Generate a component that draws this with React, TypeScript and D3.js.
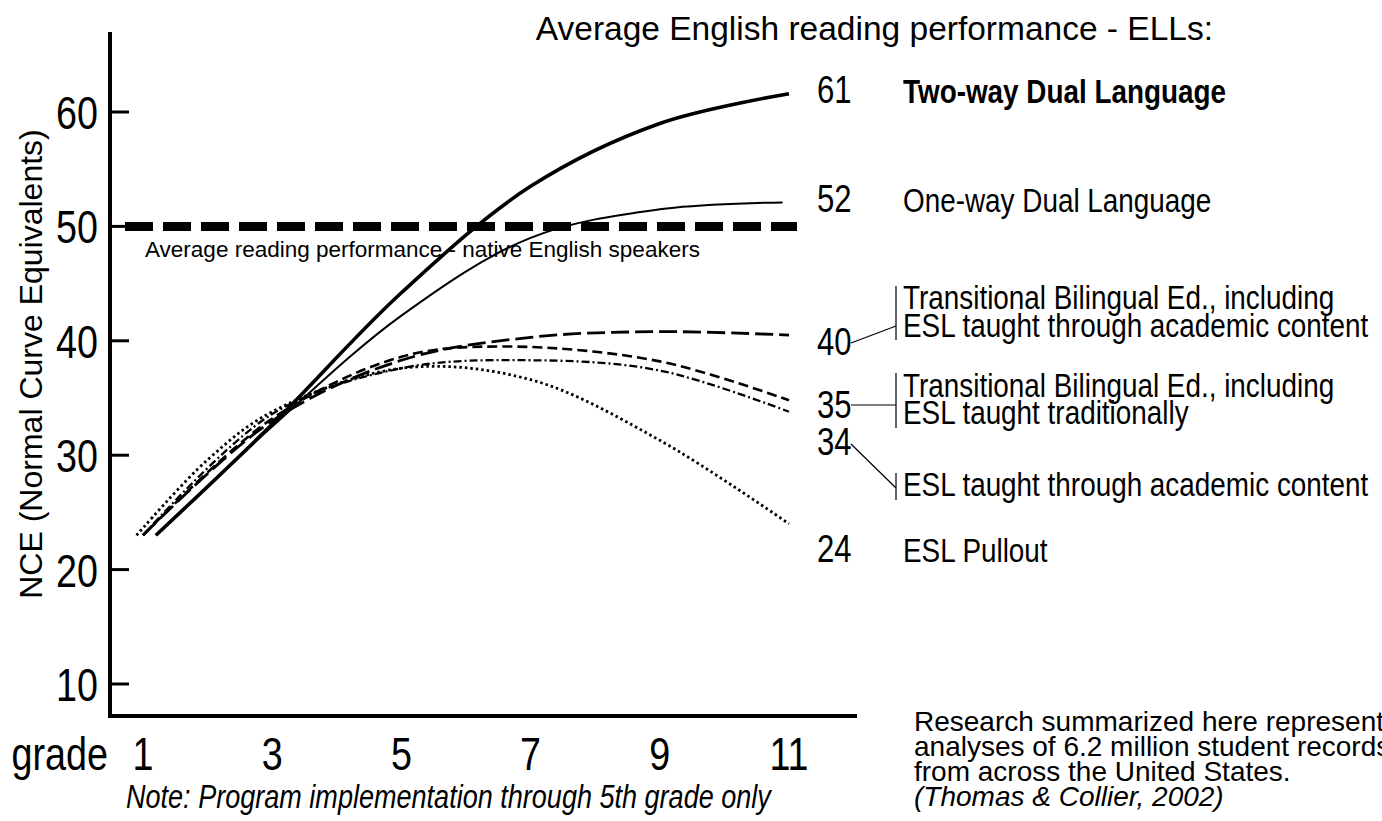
import React from "react";
import * as d3 from "d3";

// grade levels on the x axis, NCE ticks on the y axis
const grades = [1, 3, 5, 7, 9, 11];
const nceTicks = [10, 20, 30, 40, 50, 60];
const nativeAverage = 50;

// [grade, NCE]
const twoWay = [[1.2, 23], [3, 32.7], [5, 44.2], [7, 53.5], [9, 59], [11, 61.6]];
const oneWay = [[1.2, 23], [3, 32.5], [5, 42.2], [7, 49], [9, 51.5], [10.9, 52.1]];
const tbeAcademic = [[1, 23], [3, 33], [5, 38.3], [7, 40.3], [9, 40.8], [11, 40.5]];
const tbeTraditional = [[1, 23], [3, 33.2], [5, 38.6], [6.6, 39.5], [9, 38.2], [11, 34.8]];
const eslAcademic = [[1, 23], [3, 33.6], [5, 37.6], [7, 38.3], [9, 37.4], [11, 33.8]];
const eslPullout = [[0.9, 23], [2, 29.6], [3, 33.8], [5, 37.6], [7, 36.6], [9, 31.3], [11, 24]];

const finalValues = ["61", "52", "40", "35", "34", "24"];

const FONT = "'Liberation Sans', Arial, Helvetica, sans-serif";
const NARROW = 0.82; // Arial Narrow look: squeeze Liberation Sans horizontally

const W = 1382;
const H = 821;

// narrow text, squeezed around its anchor point
const NText = ({ x, y, size, anchor = "start", weight = "normal", italic = false, children }: any) => (
  <text
    transform={`translate(${x},${y}) scale(${NARROW},1)`}
    textAnchor={anchor}
    fontFamily={FONT}
    fontSize={size}
    fontWeight={weight}
    fontStyle={italic ? "italic" : "normal"}
  >
    {children}
  </text>
);

export default function App() {
  const x = d3.scaleLinear().domain([1, 11]).range([143, 789]);
  const y = d3.scaleLinear().domain([10, 60]).range([684, 112]);

  const line = d3
    .line<number[]>()
    .x(d => x(d[0]))
    .y(d => y(d[1]))
    .curve(d3.curveCatmullRom.alpha(0.5));

  const series = [
    { data: twoWay, width: 3.6, dash: "none" },
    { data: oneWay, width: 2, dash: "none" },
    { data: tbeAcademic, width: 2.8, dash: "18,6" },
    { data: tbeTraditional, width: 2.6, dash: "10,5" },
    { data: eslAcademic, width: 2.3, dash: "8,3,2,3" },
    { data: eslPullout, width: 2.8, dash: "2.5,3" },
  ];

  const labX = 903;
  const numX = 817;
  const lab = 34;

  return (
    <svg
      width={W}
      height={H}
      style={{ position: "absolute", left: 0, top: 0, background: "#fff" }}
    >
      {/* title */}
      <text x={1213} y={40} textAnchor="end" fontFamily={FONT} fontSize={33.5}>
        Average English reading performance - ELLs:
      </text>

      {/* axes */}
      <line x1={110} x2={110} y1={32} y2={718} stroke="#000" strokeWidth={4} />
      <line x1={108} x2={857} y1={716} y2={716} stroke="#000" strokeWidth={4} />

      {nceTicks.map(t => (
        <g key={t}>
          <line x1={110} x2={129} y1={y(t)} y2={y(t)} stroke="#000" strokeWidth={3} />
          <NText x={98} y={y(t) + 17} size={46} anchor="end">{t}</NText>
        </g>
      ))}

      <text
        transform={`translate(42,364) rotate(-90)`}
        textAnchor="middle"
        fontFamily={FONT}
        fontSize={32}
      >
        NCE (Normal Curve Equivalents)
      </text>

      {grades.map(g => (
        <NText key={g} x={x(g)} y={770} size={46} anchor="middle">{g}</NText>
      ))}
      <NText x={108} y={770} size={46} anchor="end">grade</NText>

      <NText x={126} y={808} size={33} italic>
        Note: Program implementation through 5th grade only
      </NText>

      {/* native speaker average */}
      <line
        x1={125}
        x2={797}
        y1={y(nativeAverage)}
        y2={y(nativeAverage)}
        stroke="#000"
        strokeWidth={9}
        strokeDasharray="28,10"
      />
      <text x={145} y={y(nativeAverage) + 31} fontFamily={FONT} fontSize={22.5}>
        Average reading performance - native English speakers
      </text>

      {/* program curves */}
      {series.map((s, i) => (
        <path
          key={i}
          d={line(s.data) || ""}
          fill="none"
          stroke="#000"
          strokeWidth={s.width}
          strokeDasharray={s.dash}
        />
      ))}

      {/* right labels */}
      <NText x={numX} y={103} size={38}>{finalValues[0]}</NText>
      <NText x={labX} y={103} size={lab} weight="bold">Two-way Dual Language</NText>

      <NText x={numX} y={212} size={38}>{finalValues[1]}</NText>
      <NText x={labX} y={212} size={lab}>One-way Dual Language</NText>

      <NText x={numX} y={355} size={38}>{finalValues[2]}</NText>
      <line x1={851} y1={343} x2={896} y2={326} stroke="#000" strokeWidth={1.2} />
      <line x1={896} y1={286} x2={896} y2={340} stroke="#000" strokeWidth={1.2} />
      <NText x={labX} y={309} size={lab}>Transitional Bilingual Ed., including</NText>
      <NText x={labX} y={337} size={lab}>ESL taught through academic content</NText>

      <NText x={numX} y={418} size={38}>{finalValues[3]}</NText>
      <line x1={851} y1={405} x2={896} y2={405} stroke="#000" strokeWidth={1.2} />
      <line x1={896} y1={373} x2={896} y2={428} stroke="#000" strokeWidth={1.2} />
      <NText x={labX} y={397} size={lab}>Transitional Bilingual Ed., including</NText>
      <NText x={labX} y={424} size={lab}>ESL taught traditionally</NText>

      <NText x={numX} y={455} size={38}>{finalValues[4]}</NText>
      <line x1={851} y1={444} x2={896} y2={488} stroke="#000" strokeWidth={1.2} />
      <line x1={896} y1={473} x2={896} y2={500} stroke="#000" strokeWidth={1.2} />
      <NText x={labX} y={496} size={lab}>ESL taught through academic content</NText>

      <NText x={numX} y={562} size={38}>{finalValues[5]}</NText>
      <NText x={labX} y={562} size={lab}>ESL Pullout</NText>

      {/* source note */}
      <g fontFamily={FONT} fontSize={28}>
        <text x={914} y={731}>Research summarized here represent</text>
        <text x={914} y={756}>analyses of 6.2 million student records</text>
        <text x={914} y={781}>from across the United States.</text>
        <text x={914} y={806} fontStyle="italic">(Thomas &amp; Collier, 2002)</text>
      </g>
    </svg>
  );
}
